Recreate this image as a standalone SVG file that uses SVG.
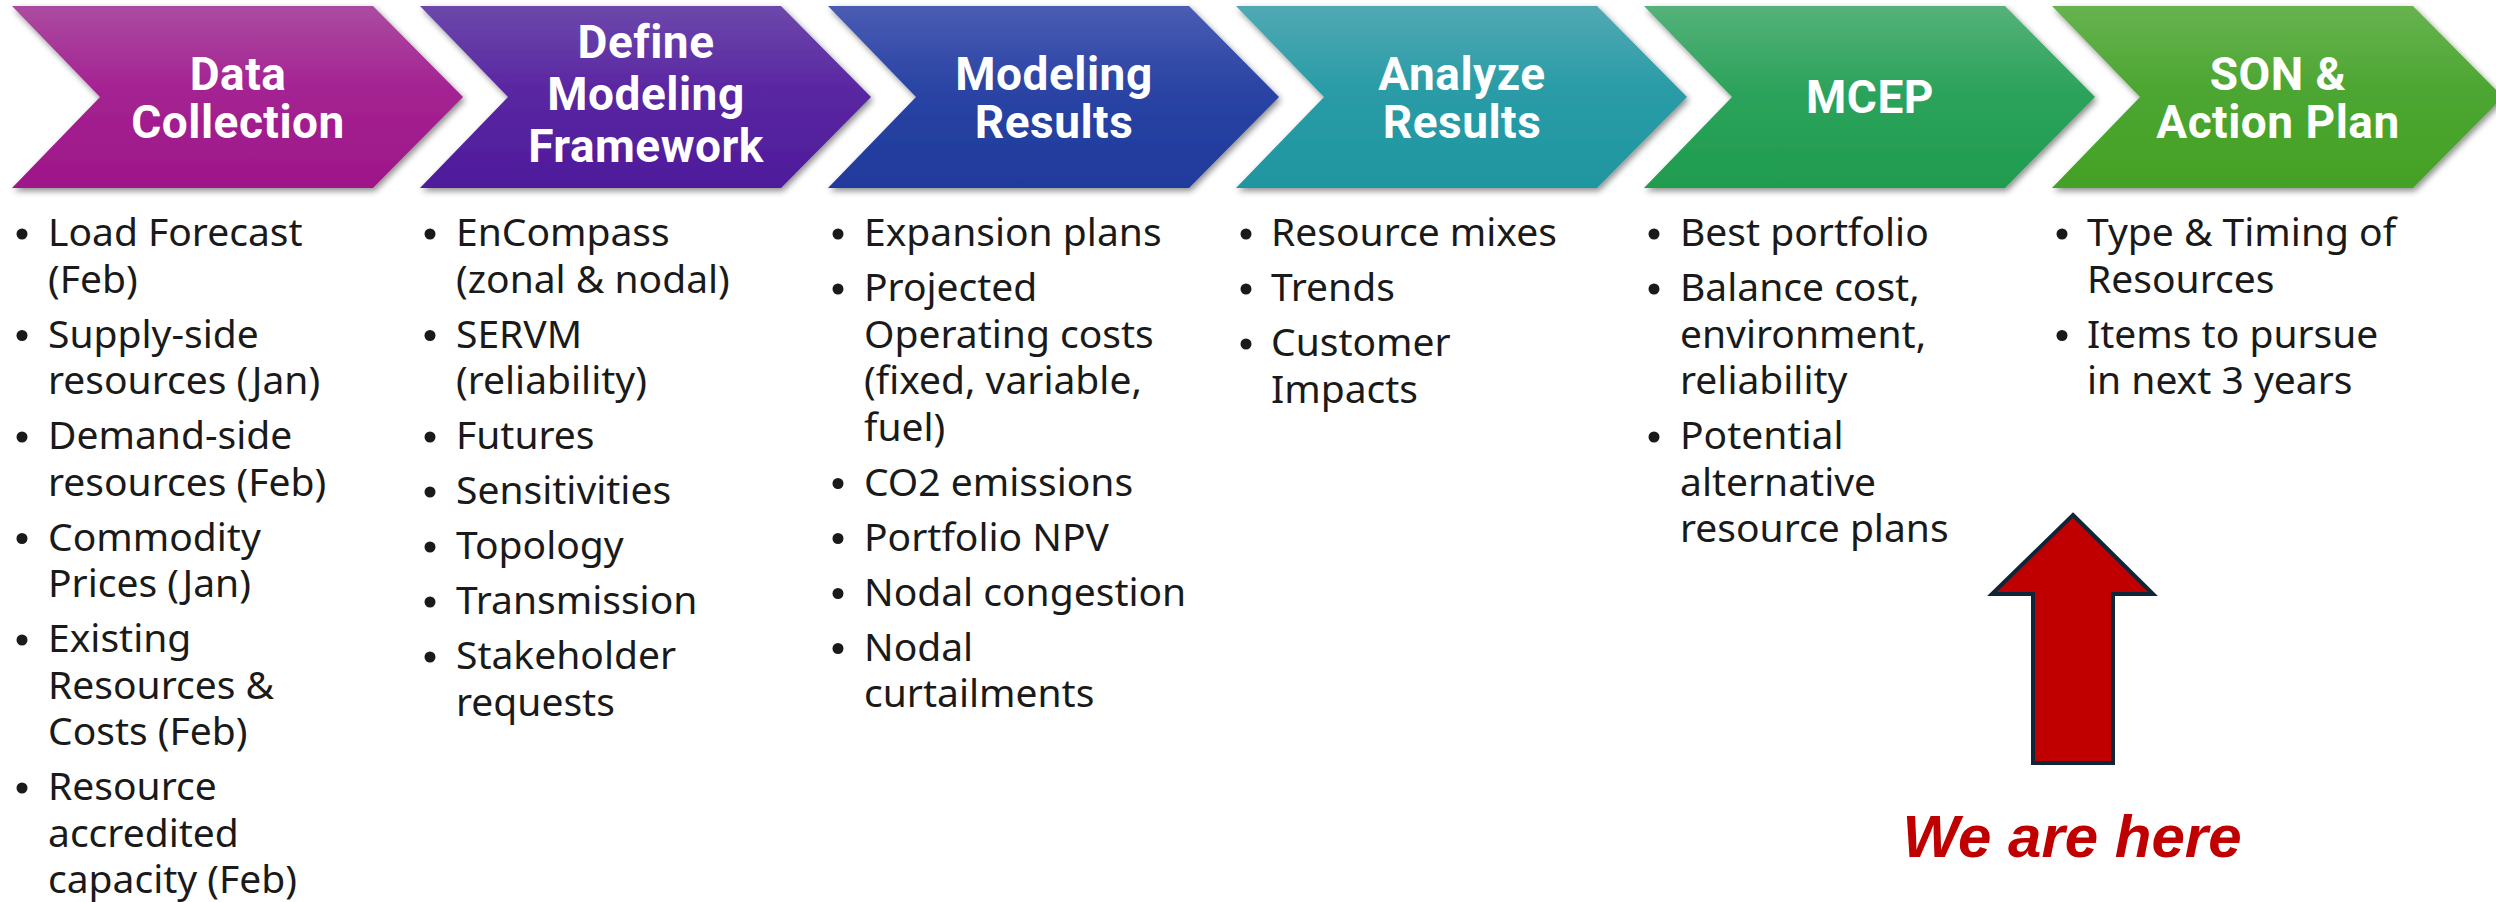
<svg xmlns="http://www.w3.org/2000/svg" width="2496" height="902" viewBox="0 0 2496 902">
<defs>
<style>
.hd{font-family:Roboto,"Liberation Sans",sans-serif;font-weight:bold;font-size:46px;fill:#fff;text-anchor:middle;letter-spacing:0.5px}
.bt{font-family:"Noto Sans","Liberation Sans",sans-serif;font-size:39px;fill:#1a1a1a}
.dot{fill:#1a1a1a}
.here{font-family:"Liberation Sans",Arial,sans-serif;font-weight:bold;font-style:italic;font-size:60px;fill:#C00000;text-anchor:middle}
</style>
<filter id="sh" x="-5%" y="-10%" width="110%" height="125%">
<feDropShadow dx="2" dy="3" stdDeviation="3" flood-color="#000" flood-opacity="0.45"/>
</filter>
<linearGradient id="g1" x1="0" y1="0" x2="0" y2="1"><stop offset="0" stop-color="#AB4BA0"/><stop offset="0.45" stop-color="#A42392"/><stop offset="1" stop-color="#9E1688"/></linearGradient>
<linearGradient id="g2" x1="0" y1="0" x2="0" y2="1"><stop offset="0" stop-color="#6C48AB"/><stop offset="0.45" stop-color="#5A27A2"/><stop offset="1" stop-color="#4E1B9B"/></linearGradient>
<linearGradient id="g3" x1="0" y1="0" x2="0" y2="1"><stop offset="0" stop-color="#4A5CB3"/><stop offset="0.45" stop-color="#2A44A4"/><stop offset="1" stop-color="#1F3A9B"/></linearGradient>
<linearGradient id="g4" x1="0" y1="0" x2="0" y2="1"><stop offset="0" stop-color="#50A9B3"/><stop offset="0.45" stop-color="#2A9CA7"/><stop offset="1" stop-color="#1F96A0"/></linearGradient>
<linearGradient id="g5" x1="0" y1="0" x2="0" y2="1"><stop offset="0" stop-color="#55B27A"/><stop offset="0.45" stop-color="#2DA35C"/><stop offset="1" stop-color="#1F9C4F"/></linearGradient>
<linearGradient id="g6" x1="0" y1="0" x2="0" y2="1"><stop offset="0" stop-color="#67B350"/><stop offset="0.45" stop-color="#4DA632"/><stop offset="1" stop-color="#43A125"/></linearGradient>
</defs>
<rect width="2496" height="902" fill="#fff"/>

<g id="node-data-collection">
<path d="M12,6 L373,6 L463,97 L373,188 L12,188 L100,97 Z" fill="url(#g1)" filter="url(#sh)"/>
<text class="hd" x="238" y="90">Data</text>
<text class="hd" x="238" y="138">Collection</text>
<circle class="dot" cx="22" cy="234" r="5.5"/><text class="bt" x="48" y="246">Load Forecast</text><text class="bt" x="48" y="292.5">(Feb)</text>
<circle class="dot" cx="22" cy="335.5" r="5.5"/><text class="bt" x="48" y="347.5">Supply-side</text><text class="bt" x="48" y="394">resources (Jan)</text>
<circle class="dot" cx="22" cy="437" r="5.5"/><text class="bt" x="48" y="449">Demand-side</text><text class="bt" x="48" y="495.5">resources (Feb)</text>
<circle class="dot" cx="22" cy="538.5" r="5.5"/><text class="bt" x="48" y="550.5">Commodity</text><text class="bt" x="48" y="597">Prices (Jan)</text>
<circle class="dot" cx="22" cy="640" r="5.5"/><text class="bt" x="48" y="652">Existing</text><text class="bt" x="48" y="698.5">Resources &amp;</text><text class="bt" x="48" y="745">Costs (Feb)</text>
<circle class="dot" cx="22" cy="788" r="5.5"/><text class="bt" x="48" y="800">Resource</text><text class="bt" x="48" y="846.5">accredited</text><text class="bt" x="48" y="893">capacity (Feb)</text>
</g>

<g id="node-define-framework">
<path d="M420,6 L781,6 L871,97 L781,188 L420,188 L508,97 Z" fill="url(#g2)" filter="url(#sh)"/>
<text class="hd" x="646" y="58">Define</text>
<text class="hd" x="646" y="110">Modeling</text>
<text class="hd" x="646" y="162">Framework</text>
<circle class="dot" cx="430" cy="234" r="5.5"/><text class="bt" x="456" y="246">EnCompass</text><text class="bt" x="456" y="292.5">(zonal &amp; nodal)</text>
<circle class="dot" cx="430" cy="335.5" r="5.5"/><text class="bt" x="456" y="347.5">SERVM</text><text class="bt" x="456" y="394">(reliability)</text>
<circle class="dot" cx="430" cy="437" r="5.5"/><text class="bt" x="456" y="449">Futures</text>
<circle class="dot" cx="430" cy="492" r="5.5"/><text class="bt" x="456" y="504">Sensitivities</text>
<circle class="dot" cx="430" cy="547" r="5.5"/><text class="bt" x="456" y="559">Topology</text>
<circle class="dot" cx="430" cy="602" r="5.5"/><text class="bt" x="456" y="614">Transmission</text>
<circle class="dot" cx="430" cy="657" r="5.5"/><text class="bt" x="456" y="669">Stakeholder</text><text class="bt" x="456" y="715.5">requests</text>
</g>

<g id="node-modeling-results">
<path d="M828,6 L1189,6 L1279,97 L1189,188 L828,188 L916,97 Z" fill="url(#g3)" filter="url(#sh)"/>
<text class="hd" x="1054" y="90">Modeling</text>
<text class="hd" x="1054" y="138">Results</text>
<circle class="dot" cx="838" cy="234" r="5.5"/><text class="bt" x="864" y="246">Expansion plans</text>
<circle class="dot" cx="838" cy="289" r="5.5"/><text class="bt" x="864" y="301">Projected</text><text class="bt" x="864" y="347.5">Operating costs</text><text class="bt" x="864" y="394">(fixed, variable,</text><text class="bt" x="864" y="440.5">fuel)</text>
<circle class="dot" cx="838" cy="483.5" r="5.5"/><text class="bt" x="864" y="495.5">CO2 emissions</text>
<circle class="dot" cx="838" cy="538.5" r="5.5"/><text class="bt" x="864" y="550.5">Portfolio NPV</text>
<circle class="dot" cx="838" cy="593.5" r="5.5"/><text class="bt" x="864" y="605.5">Nodal congestion</text>
<circle class="dot" cx="838" cy="648.5" r="5.5"/><text class="bt" x="864" y="660.5">Nodal</text><text class="bt" x="864" y="707">curtailments</text>
</g>

<g id="node-analyze-results">
<path d="M1236,6 L1597,6 L1687,97 L1597,188 L1236,188 L1324,97 Z" fill="url(#g4)" filter="url(#sh)"/>
<text class="hd" x="1462" y="90">Analyze</text>
<text class="hd" x="1462" y="138">Results</text>
<circle class="dot" cx="1246" cy="234" r="5.5"/><text class="bt" x="1271" y="246">Resource mixes</text>
<circle class="dot" cx="1246" cy="289" r="5.5"/><text class="bt" x="1271" y="301">Trends</text>
<circle class="dot" cx="1246" cy="344" r="5.5"/><text class="bt" x="1271" y="356">Customer</text><text class="bt" x="1271" y="402.5">Impacts</text>
</g>

<g id="node-mcep">
<path d="M1644,6 L2005,6 L2095,97 L2005,188 L1644,188 L1732,97 Z" fill="url(#g5)" filter="url(#sh)"/>
<text class="hd" x="1870" y="113">MCEP</text>
<circle class="dot" cx="1654" cy="234" r="5.5"/><text class="bt" x="1680" y="246">Best portfolio</text>
<circle class="dot" cx="1654" cy="289" r="5.5"/><text class="bt" x="1680" y="301">Balance cost,</text><text class="bt" x="1680" y="347.5">environment,</text><text class="bt" x="1680" y="394">reliability</text>
<circle class="dot" cx="1654" cy="437" r="5.5"/><text class="bt" x="1680" y="449">Potential</text><text class="bt" x="1680" y="495.5">alternative</text><text class="bt" x="1680" y="542">resource plans</text>
</g>

<g id="node-son-action-plan">
<path d="M2052,6 L2413,6 L2503,97 L2413,188 L2052,188 L2140,97 Z" fill="url(#g6)" filter="url(#sh)"/>
<text class="hd" x="2278" y="90">SON &amp;</text>
<text class="hd" x="2278" y="138">Action Plan</text>
<circle class="dot" cx="2062" cy="234" r="5.5"/><text class="bt" x="2087" y="246">Type &amp; Timing of</text><text class="bt" x="2087" y="292.5">Resources</text>
<circle class="dot" cx="2062" cy="335.5" r="5.5"/><text class="bt" x="2087" y="347.5">Items to pursue</text><text class="bt" x="2087" y="394">in next 3 years</text>
</g>

<g id="connectors"></g>

<g id="we-are-here">
<path d="M2073,515 L2153,594 L2113,594 L2113,763 L2033,763 L2033,594 L1992,594 Z" fill="#C00000" stroke="#0F2638" stroke-width="4" stroke-linejoin="miter"/>
<text class="here" x="2072" y="857">We are here</text>
</g>
</svg>
